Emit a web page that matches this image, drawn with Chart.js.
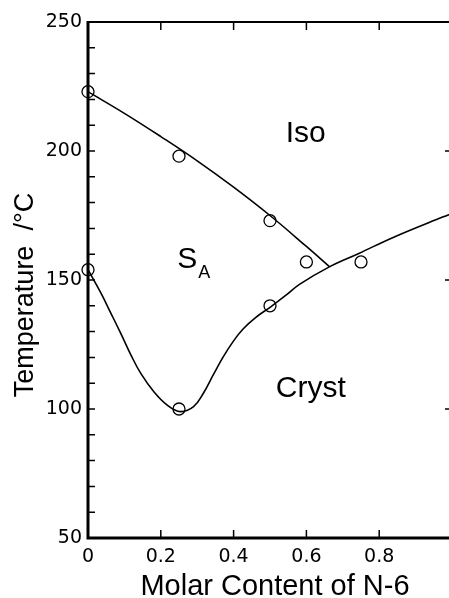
<!DOCTYPE html>
<html>
<head>
<meta charset="utf-8">
<script src="https://cdn.jsdelivr.net/npm/chart.js@4/dist/chart.umd.min.js"></script>
<style>
  html, body { margin: 0; padding: 0; background: #fff; overflow: hidden; }
  #wrap { width: 460px; height: 598px; }
</style>
</head>
<body>
<div id="wrap"><canvas id="c" width="460" height="598"></canvas></div>
<script>
// Measured transition temperatures (open circles)
const measuredX = [0, 0, 0.25, 0.25, 0.5, 0.5, 0.6, 0.75];
const measuredT = [223, 154, 198, 100, 173, 140, 157, 157];

// Isotropic / smectic A boundary
const isoBoundaryX = [0, 0.1, 0.2, 0.3, 0.4, 0.5, 0.6, 0.663];
const isoBoundaryT = [223, 214.6, 205.6, 196.2, 186, 175, 163, 155.2];

// Melting curve (crystal boundary)
const crystBoundaryX = [0, 0.036, 0.063, 0.09, 0.118, 0.145, 0.181, 0.217, 0.254, 0.29, 0.317, 0.344, 0.371, 0.399, 0.426, 0.462, 0.503, 0.543, 0.582, 0.663, 0.744, 0.843, 0.976, 1.0];
const crystBoundaryT = [154, 144.8, 137.1, 129.3, 120.9, 113.8, 106.7, 101.6, 99.0, 100.9, 106.1, 113.2, 120.1, 126.2, 131.0, 135.6, 139.7, 144.0, 148.4, 155.1, 160.3, 166.8, 174.5, 175.8];

// Axis ticks
const xTickValues = [0, 0.2, 0.4, 0.6, 0.8, 1.0];
const xTickLabels = ['0', '0.2', '0.4', '0.6', '0.8', ''];
const yMajorStep = 50;
const yMinorStep = 10;

// Phase region names, anchored in data units (x, temperature)
const phaseLabels = [
  { text: 'Iso',   sub: '',  x: 0.543, t: 203.5 },
  { text: 'S',     sub: 'A', x: 0.245, t: 154.7 },
  { text: 'Cryst', sub: '',  x: 0.516, t: 104.7 }
];

const SANS = '"Liberation Sans", Arial, Helvetica, sans-serif';
const toPoints = (xs, ys) => xs.map((v, i) => ({ x: v, y: ys[i] }));

const framePlugin = {
  id: 'frame',
  beforeDatasetsDraw(chart) {
    const { ctx, chartArea: a, scales: { x, y } } = chart;
    ctx.save();
    ctx.strokeStyle = '#000';
    ctx.lineCap = 'butt';
    ctx.lineWidth = 3;
    ctx.beginPath();
    ctx.moveTo(a.left, a.top - 1);
    ctx.lineTo(a.left, a.bottom + 1.5);
    ctx.moveTo(a.left - 1.5, a.bottom);
    ctx.lineTo(a.right, a.bottom);
    ctx.stroke();
    ctx.lineWidth = 2;
    ctx.beginPath();
    ctx.moveTo(a.left, a.top);
    ctx.lineTo(a.right, a.top);
    ctx.lineTo(a.right, a.bottom);
    ctx.stroke();
    ctx.lineWidth = 1.5;
    ctx.beginPath();
    y.ticks.forEach(t => {
      const py = y.getPixelForValue(t.value);
      ctx.moveTo(a.left, py);
      ctx.lineTo(a.left + 7, py);
      if (t.value % yMajorStep === 0) {
        ctx.moveTo(a.right, py);
        ctx.lineTo(a.right - 7, py);
      }
    });
    x.ticks.forEach(t => {
      const px = x.getPixelForValue(t.value);
      ctx.moveTo(px, a.bottom);
      ctx.lineTo(px, a.bottom - 8);
      ctx.moveTo(px, a.top);
      ctx.lineTo(px, a.top + 8);
    });
    ctx.stroke();
    ctx.restore();
  }
};

const textPlugin = {
  id: 'texts',
  afterDraw(chart) {
    const { ctx, chartArea: a, scales: { x, y } } = chart;
    ctx.save();
    ctx.fillStyle = '#000';
    ctx.textBaseline = 'alphabetic';
    phaseLabels.forEach(l => {
      const px = x.getPixelForValue(l.x);
      const py = y.getPixelForValue(l.t);
      ctx.font = '30px ' + SANS;
      ctx.textAlign = 'left';
      ctx.fillText(l.text, px, py);
      if (l.sub) {
        const w = ctx.measureText(l.text).width;
        ctx.font = '18px ' + SANS;
        ctx.fillText(l.sub, px + w + 1, py + 10);
      }
    });
    // axis titles
    ctx.font = '29px ' + SANS;
    ctx.textAlign = 'center';
    ctx.fillText('Molar Content of N-6', (a.left + a.right) / 2 + 5, chart.height - 3);
    ctx.translate(33, (a.top + a.bottom) / 2 + 15);
    ctx.rotate(-Math.PI / 2);
    ctx.font = '27px ' + SANS;
    ctx.fillText('Temperature  /°C', 0, 0);
    ctx.restore();
  }
};

new Chart(document.getElementById('c'), {
  type: 'scatter',
  data: {
    datasets: [
      {
        label: 'Iso boundary',
        data: toPoints(isoBoundaryX, isoBoundaryT),
        showLine: true,
        tension: 0.4,
        borderColor: '#000',
        borderWidth: 1.6,
        pointRadius: 0,
        fill: false
      },
      {
        label: 'Cryst boundary',
        data: toPoints(crystBoundaryX, crystBoundaryT),
        showLine: true,
        tension: 0.4,
        borderColor: '#000',
        borderWidth: 1.6,
        pointRadius: 0,
        fill: false
      },
      {
        label: 'Measured',
        data: toPoints(measuredX, measuredT),
        showLine: false,
        pointStyle: 'circle',
        pointRadius: 6,
        pointBorderWidth: 1.3,
        pointBorderColor: '#000',
        pointBackgroundColor: 'rgba(0,0,0,0)',
        clip: false
      }
    ]
  },
  options: {
    responsive: false,
    animation: false,
    devicePixelRatio: 1,
    layout: { padding: { top: 22, right: 4, left: 0, bottom: 0 } },
    plugins: { legend: { display: false }, tooltip: { enabled: false } },
    scales: {
      x: {
        type: 'linear',
        min: 0,
        max: 1,
        afterBuildTicks: s => { s.ticks = xTickValues.map(v => ({ value: v })); },
        afterFit: s => { s.height = 60; },
        grid: { display: false, drawTicks: false },
        border: { display: false },
        ticks: {
          autoSkip: false,
          maxRotation: 0,
          padding: 8,
          color: '#000',
          font: { family: '"DejaVu Sans", sans-serif', size: 19 },
          callback: (v, i) => xTickLabels[i]
        }
      },
      y: {
        type: 'linear',
        min: 50,
        max: 250,
        afterFit: s => { s.width = 88; },
        grid: { display: false, drawTicks: false },
        border: { display: false },
        ticks: {
          stepSize: yMinorStep,
          autoSkip: false,
          padding: 6,
          color: '#000',
          font: { family: '"DejaVu Sans", sans-serif', size: 19 },
          callback: v => (v % yMajorStep === 0 ? String(v) : '')
        }
      }
    }
  },
  plugins: [framePlugin, textPlugin]
});
</script>
</body>
</html>
